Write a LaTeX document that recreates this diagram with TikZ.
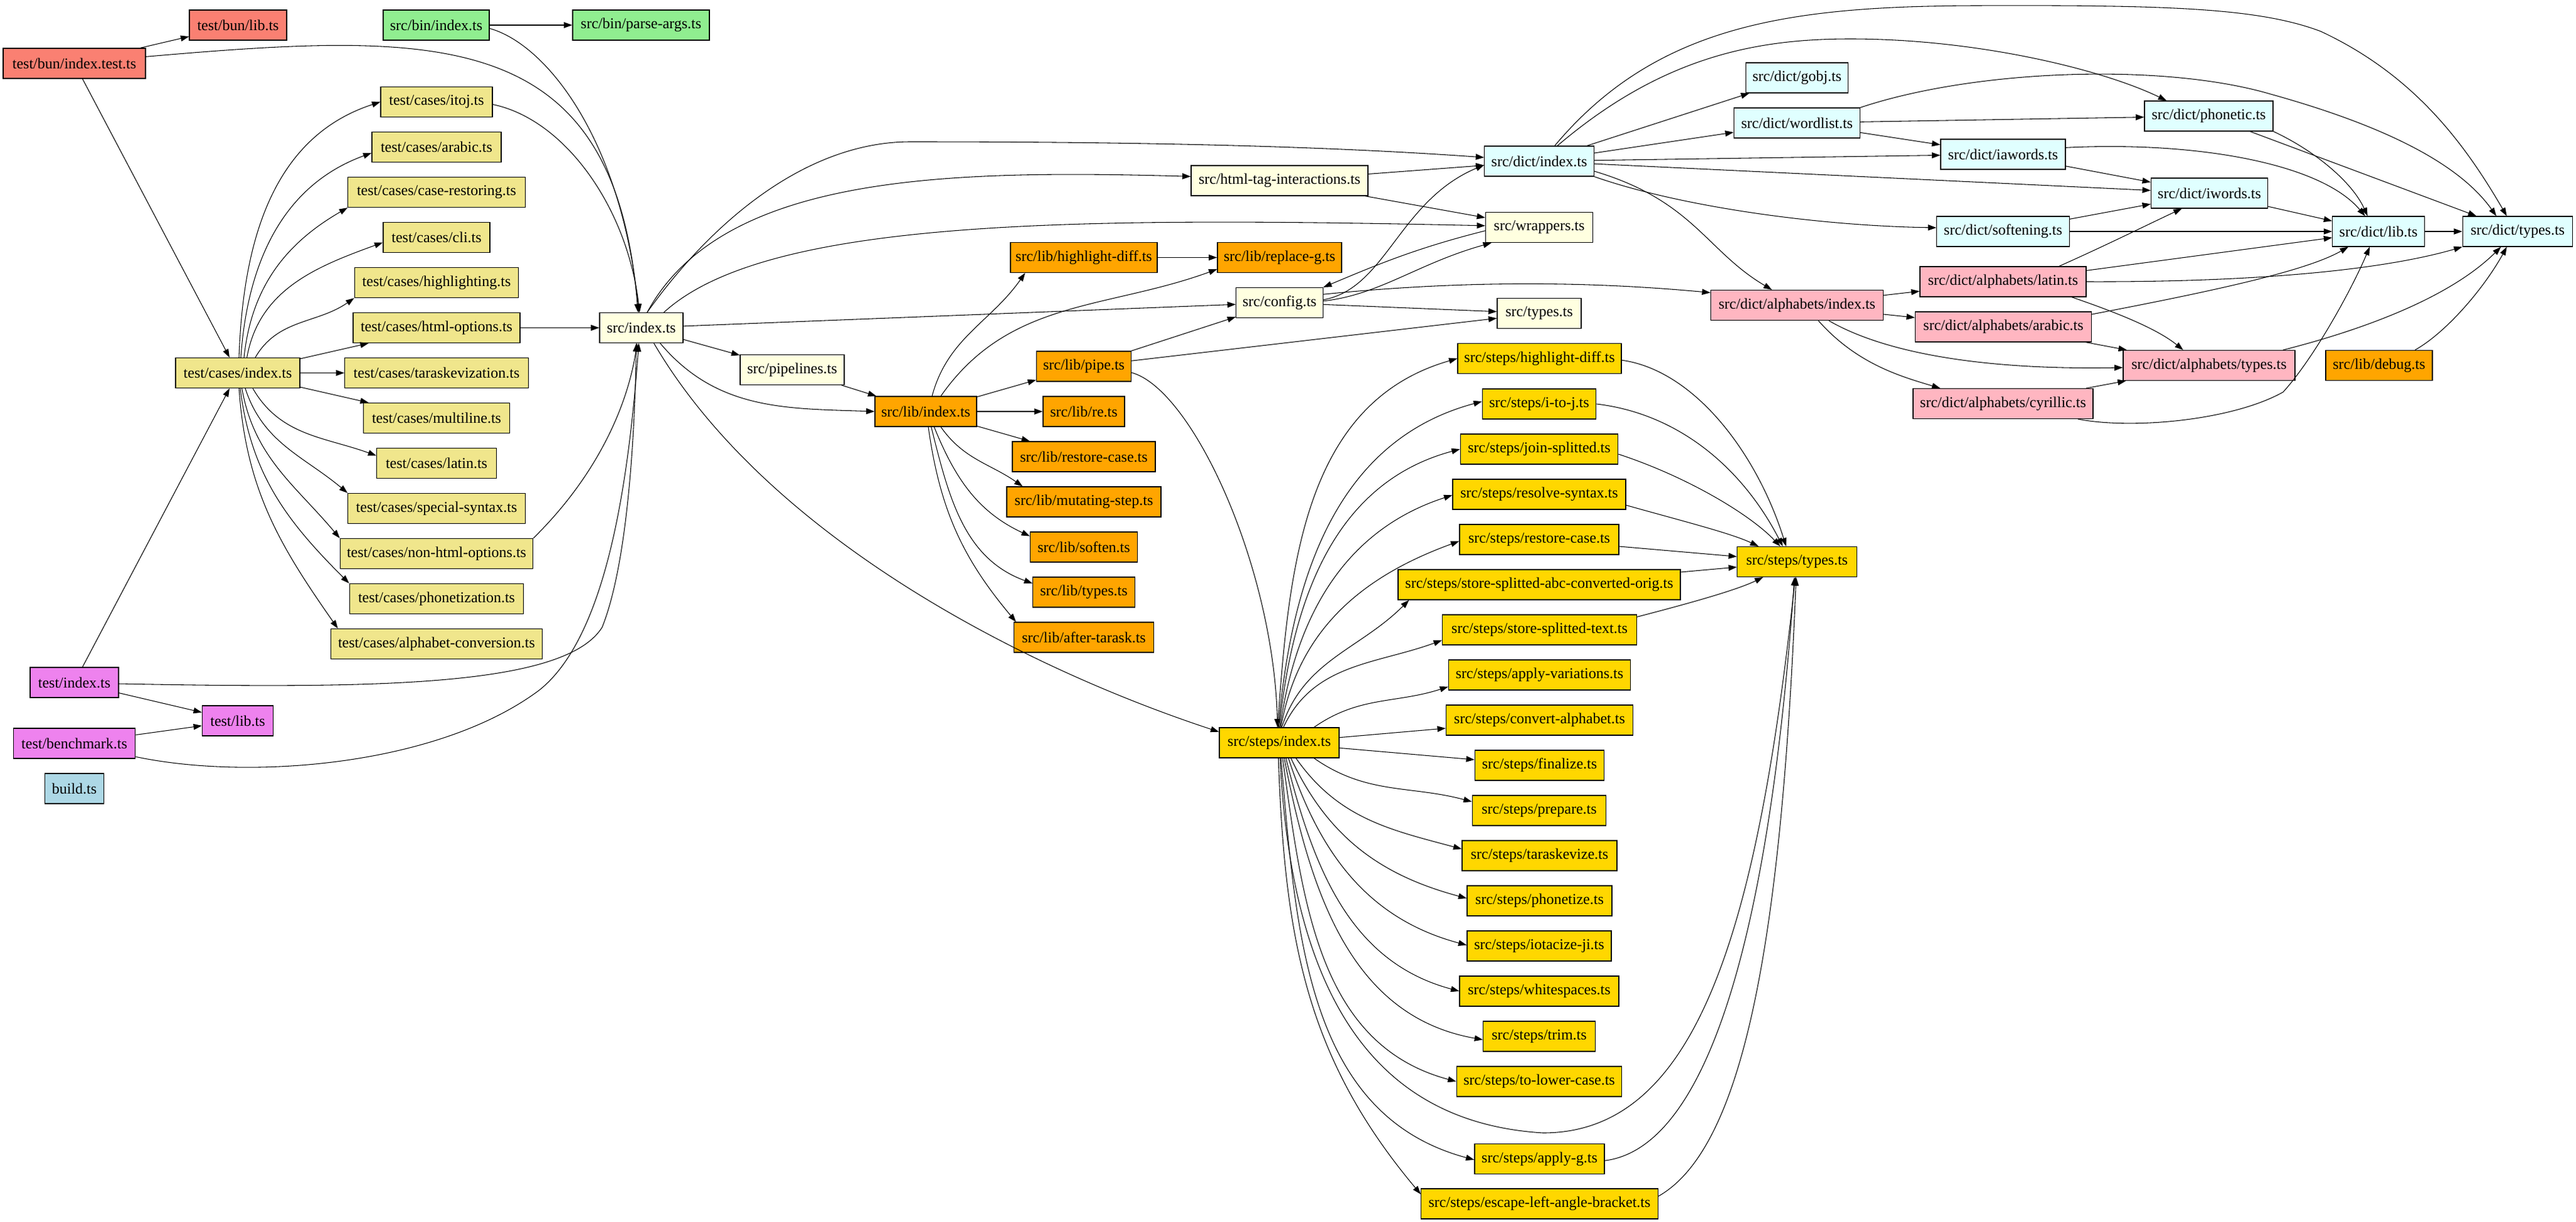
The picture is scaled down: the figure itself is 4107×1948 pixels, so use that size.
\documentclass[tikz,border=0pt]{standalone}
\usepackage{fontspec}
\setmainfont{Liberation Serif}
\usetikzlibrary{arrows.meta}
\definecolor{csalmon}{HTML}{FA8072}
\definecolor{cgreen}{HTML}{90EE90}
\definecolor{ckhaki}{HTML}{F0E68C}
\definecolor{cly}{HTML}{FFFFE0}
\definecolor{corange}{HTML}{FFA500}
\definecolor{ccyan}{HTML}{E0FFFF}
\definecolor{cpink}{HTML}{FFB6C1}
\definecolor{cgold}{HTML}{FFD700}
\definecolor{cviolet}{HTML}{EE82EE}
\definecolor{cblue}{HTML}{ADD8E6}
\tikzset{
  box/.style={draw=black, line width=0.9pt, rectangle, minimum height=36pt, inner xsep=3pt, inner ysep=0pt, font=\fontsize{18}{21}\selectfont},
  bw/.style={minimum width=#1*0.75pt},
  edg/.style={-{Triangle[length=10pt,width=7pt]}, line width=0.8pt, black}
}
\begin{document}
\begin{tikzpicture}[x=0.75pt,y=0.75pt]
\useasboundingbox[fill=white] (0,0) rectangle (4107,-1948);
% nodes
\node[box,bw=227,fill=csalmon] (tbi) at (118.5,-101) {test/bun/index.test.ts};
\node[box,bw=155,fill=csalmon] (tbl) at (379.5,-40) {test/bun/lib.ts};
\node[box,bw=169,fill=cgreen] (sbi) at (695.5,-40) {src/bin/index.ts};
\node[box,bw=218,fill=cgreen] (sbp) at (1022,-40) {src/bin/parse-args.ts};
\node[box,bw=198,fill=ckhaki] (tci) at (379,-594.5) {test/cases/index.ts};
\node[box,bw=178,fill=ckhaki] (c1) at (696,-162.5) {test/cases/itoj.ts};
\node[box,bw=206,fill=ckhaki] (c2) at (696,-234.5) {test/cases/arabic.ts};
\node[box,bw=282.5,fill=ckhaki] (c3) at (696,-306.5) {test/cases/case-restoring.ts};
\node[box,bw=170,fill=ckhaki] (c4) at (696,-378.5) {test/cases/cli.ts};
\node[box,bw=261.5,fill=ckhaki] (c5) at (696,-450.5) {test/cases/highlighting.ts};
\node[box,bw=266,fill=ckhaki] (c6) at (696,-522.5) {test/cases/html-options.ts};
\node[box,bw=293,fill=ckhaki] (c7) at (696,-594.5) {test/cases/taraskevization.ts};
\node[box,bw=232.5,fill=ckhaki] (c8) at (696,-666.5) {test/cases/multiline.ts};
\node[box,bw=190.5,fill=ckhaki] (c9) at (696,-738.5) {test/cases/latin.ts};
\node[box,bw=282.5,fill=ckhaki] (c10) at (696,-810.5) {test/cases/special-syntax.ts};
\node[box,bw=307.5,fill=ckhaki] (c11) at (696,-882.5) {test/cases/non-html-options.ts};
\node[box,bw=277.5,fill=ckhaki] (c12) at (696,-954.5) {test/cases/phonetization.ts};
\node[box,bw=337.5,fill=ckhaki] (c13) at (696,-1026.5) {test/cases/alphabet-conversion.ts};
\node[box,bw=141,fill=cviolet] (ti) at (118.5,-1088) {test/index.ts};
\node[box,bw=113,fill=cviolet] (tl) at (379,-1149) {test/lib.ts};
\node[box,bw=194.5,fill=cviolet] (tb) at (118.5,-1185) {test/benchmark.ts};
\node[box,bw=94.5,fill=cblue] (bd) at (118.5,-1257) {build.ts};
\node[box,bw=133,fill=cly] (si) at (1022.5,-522.5) {src/index.ts};
\node[box,bw=166,fill=cly] (pl) at (1263,-589.5) {src/pipelines.ts};
\node[box,bw=282,fill=cly] (hti) at (2040,-288) {src/html-tag-interactions.ts};
\node[box,bw=162,fill=corange] (li) at (1476,-656) {src/lib/index.ts};
\node[box,bw=234,fill=corange] (lhd) at (1728,-410.5) {src/lib/highlight-diff.ts};
\node[box,bw=198,fill=corange] (lrg) at (2040,-410.5) {src/lib/replace-g.ts};
\node[box,bw=138.5,fill=cly] (cfg) at (2040,-482.5) {src/config.ts};
\node[box,bw=151,fill=corange] (lp) at (1728,-584) {src/lib/pipe.ts};
\node[box,bw=130,fill=corange] (lre) at (1728,-656) {src/lib/re.ts};
\node[box,bw=228,fill=corange] (lrc) at (1728,-728) {src/lib/restore-case.ts};
\node[box,bw=246,fill=corange] (lms) at (1728,-800) {src/lib/mutating-step.ts};
\node[box,bw=171,fill=corange] (lso) at (1728,-872) {src/lib/soften.ts};
\node[box,bw=162.5,fill=corange] (lty) at (1728,-944) {src/lib/types.ts};
\node[box,bw=223,fill=corange] (lat) at (1728,-1016) {src/lib/after-tarask.ts};
\node[box,bw=191,fill=cgold] (sti) at (2039.5,-1184) {src/steps/index.ts};
\node[box,bw=174.5,fill=ccyan] (di) at (2454,-257) {src/dict/index.ts};
\node[box,bw=171,fill=cly] (wr) at (2454,-362.5) {src/wrappers.ts};
\node[box,bw=134,fill=cly] (ty) at (2454,-499.5) {src/types.ts};
\node[box,bw=163.5,fill=ccyan] (dg) at (2865,-124) {src/dict/gobj.ts};
\node[box,bw=201,fill=ccyan] (dw) at (2865,-196) {src/dict/wordlist.ts};
\node[box,bw=275,fill=cpink] (dai) at (2865,-486.5) {src/dict/alphabets/index.ts};
\node[box,bw=205,fill=ccyan] (dph) at (3521.5,-185) {src/dict/phonetic.ts};
\node[box,bw=199,fill=ccyan] (dia) at (3193.5,-246) {src/dict/iawords.ts};
\node[box,bw=186,fill=ccyan] (diw) at (3522.5,-308) {src/dict/iwords.ts};
\node[box,bw=211.5,fill=ccyan] (dso) at (3193.5,-369) {src/dict/softening.ts};
\node[box,bw=146.5,fill=ccyan] (dl) at (3792,-369) {src/dict/lib.ts};
\node[box,bw=175.5,fill=ccyan] (dt) at (4014,-369) {src/dict/types.ts};
\node[box,bw=265,fill=cpink] (alat) at (3193.5,-449) {src/dict/alphabets/latin.ts};
\node[box,bw=281,fill=cpink] (aar) at (3194,-521) {src/dict/alphabets/arabic.ts};
\node[box,bw=274,fill=cpink] (aty) at (3522,-582.5) {src/dict/alphabets/types.ts};
\node[box,bw=170,fill=corange] (ldb) at (3793,-582.5) {src/lib/debug.ts};
\node[box,bw=287,fill=cpink] (acy) at (3193.5,-643.5) {src/dict/alphabets/cyrillic.ts};
\node[box,bw=261,fill=cgold] (s1) at (2454.5,-571.5) {src/steps/highlight-diff.ts};
\node[box,bw=181.5,fill=cgold] (s2) at (2454,-644) {src/steps/i-to-j.ts};
\node[box,bw=251.5,fill=cgold] (s3) at (2454,-716) {src/steps/join-splitted.ts};
\node[box,bw=276,fill=cgold] (s4) at (2454,-788) {src/steps/resolve-syntax.ts};
\node[box,bw=254,fill=cgold] (s5) at (2454,-860) {src/steps/restore-case.ts};
\node[box,bw=450,fill=cgold] (s6) at (2454,-932) {src/steps/store-splitted-abc-converted-orig.ts};
\node[box,bw=310,fill=cgold] (s7) at (2454.5,-1004) {src/steps/store-splitted-text.ts};
\node[box,bw=290,fill=cgold] (s8) at (2454.5,-1076) {src/steps/apply-variations.ts};
\node[box,bw=298,fill=cgold] (s9) at (2454.5,-1148) {src/steps/convert-alphabet.ts};
\node[box,bw=206,fill=cgold] (s10) at (2454.5,-1220) {src/steps/finalize.ts};
\node[box,bw=213.5,fill=cgold] (s11) at (2454,-1292) {src/steps/prepare.ts};
\node[box,bw=247,fill=cgold] (s12) at (2454.5,-1364) {src/steps/taraskevize.ts};
\node[box,bw=231,fill=cgold] (s13) at (2454.5,-1436) {src/steps/phonetize.ts};
\node[box,bw=230,fill=cgold] (s14) at (2454,-1508) {src/steps/iotacize-ji.ts};
\node[box,bw=254,fill=cgold] (s15) at (2454,-1580) {src/steps/whitespaces.ts};
\node[box,bw=178.5,fill=cgold] (s16) at (2454,-1652) {src/steps/trim.ts};
\node[box,bw=263.5,fill=cgold] (s17) at (2454,-1724) {src/steps/to-lower-case.ts};
\node[box,bw=207,fill=cgold] (s18) at (2454.5,-1847.5) {src/steps/apply-g.ts};
\node[box,bw=377.5,fill=cgold] (s19) at (2454.5,-1919) {src/steps/escape-left-angle-bracket.ts};
\node[box,bw=190.5,fill=cgold] (sty) at (2865,-895.5) {src/steps/types.ts};
% edges: test/bun and src/bin
\draw[edg] (tbi) -- (tbl);
\draw[edg] ([yshift=8pt]tbi.east) .. controls (700,-50) and (980,-40) .. ([xshift=-4pt]si.north);
\draw[edg] (tbi) -- (tci);
\draw[edg] (sbi) -- (sbp);
\draw[edg] ([yshift=-4pt]sbi.east) .. controls (870,-70) and (990,-220) .. ([xshift=-3pt]si.north);
% test/cases
\draw[edg] ([xshift=1.5pt]tci.north) to[out=88,in=198] (c1.west);
\draw[edg] ([xshift=3.7pt]tci.north) to[out=86,in=200] ([yshift=-7pt]c2.west);
\draw[edg] ([xshift=7.5pt]tci.north) to[out=84,in=210] (c3.south west);
\draw[edg] ([xshift=11pt]tci.north) to[out=80,in=200] ([yshift=-6pt]c4.west);
\draw[edg] ([xshift=21pt]tci.north) to[out=60,in=215] (c5.south west);
\draw[edg] (tci) -- (c6);
\draw[edg] (tci) -- (c7);
\draw[edg] (tci) -- (c8);
\draw[edg] ([xshift=18pt]tci.south) to[out=-60,in=160] ([yshift=9pt]c9.west);
\draw[edg] ([xshift=9pt]tci.south) to[out=-72,in=140] (c10.north west);
\draw[edg] ([xshift=5pt]tci.south) to[out=-80,in=130] (c11.north west);
\draw[edg] ([xshift=3pt]tci.south) to[out=-83,in=135] (c12.north west);
\draw[edg] ([xshift=1.5pt]tci.south) to[out=-86,in=125] ([xshift=9pt]c13.north west);
\draw[edg] ([yshift=-3pt]c1.east) .. controls (900,-190) and (1000,-330) .. ([xshift=-2pt]si.north);
\draw[edg] (c6) -- (si);
\draw[edg] (c11.north east) .. controls (950,-760) and (1000,-650) .. ([xshift=-5pt]si.south);
% test/index, benchmark
\draw[edg] (ti) -- (tci);
\draw[edg] (ti) -- (tl);
\draw[edg] (tb) -- (tl);
\draw[edg] ([yshift=-1.5pt]ti.east) .. controls (600,-1098) and (900,-1095) .. (960,-1000) .. controls (1000,-900) and (1012,-700) .. ([xshift=-6pt]si.south);
\draw[edg] ([yshift=-16pt]tb.east) .. controls (400,-1245) and (700,-1220) .. (860,-1100) .. controls (960,-1020) and (1000,-800) .. ([xshift=-3pt]si.south);
% src/index
\draw[edg] ([xshift=7pt]si.north) .. controls (1130,-360) and (1280,-227) .. (1450,-226) .. controls (1800,-226) and (2100,-232) .. ([yshift=4.5pt]di.west);
\draw[edg] ([xshift=7pt]si.north) .. controls (1150,-280) and (1500,-270) .. ([yshift=5pt]hti.west);
\draw[edg] ([xshift=27pt]si.north) .. controls (1220,-350) and (1700,-345) .. ([yshift=2pt]wr.west);
\draw[edg] (si) -- (cfg);
\draw[edg] (si) -- (pl);
\draw[edg] ([xshift=22.5pt]si.south) to[out=-50,in=178] (li.west);
\draw[edg] ([xshift=15pt]si.south) .. controls (1220,-850) and (1620,-1060) .. ([yshift=13pt]sti.west);
\draw[edg] (pl) -- (li);
\draw[edg] (hti) -- (di);
\draw[edg] (hti) -- (wr);
% lib
\draw[edg] (lhd) -- (lrg);
\draw[edg] ([xshift=7.5pt]li.north) to[out=75,in=-125] ([xshift=18pt]lhd.south west);
\draw[edg] ([xshift=18pt]li.north) to[out=55,in=200] ([yshift=-14pt]lrg.west);
\draw[edg] (li) -- (lp);
\draw[edg] (li) -- (lre);
\draw[edg] (li) -- (lrc);
\draw[edg] ([xshift=18pt]li.south) to[out=-55,in=145] ([xshift=19.5pt]lms.north west);
\draw[edg] ([xshift=10pt]li.south) to[out=-68,in=155] ([yshift=13pt]lso.west);
\draw[edg] ([xshift=6.5pt]li.south) to[out=-76,in=160] ([yshift=10.5pt]lty.west);
\draw[edg] ([xshift=3pt]li.south) to[out=-82,in=130] ([xshift=3pt]lat.north west);
\draw[edg] (lp) -- (cfg);
\draw[edg] (lp) -- (ty);
\draw[edg] ([yshift=-7.5pt]lp.east) .. controls (1900,-620) and (2030,-900) .. ([xshift=-2pt]sti.north);
% config, wrappers
\draw[edg] ([yshift=3.5pt]cfg.east) .. controls (2210,-460) and (2230,-320) .. ([yshift=-4.5pt]di.west);
\draw[edg] ([yshift=2pt]cfg.east) .. controls (2200,-470) and (2260,-420) .. ([xshift=7.5pt]wr.south west);
\draw[edg] ([yshift=-4pt]wr.west) .. controls (2260,-395) and (2200,-420) .. (cfg.north east);
\draw[edg] (cfg) -- (ty);
\draw[edg] ([yshift=10pt]cfg.east) .. controls (2350,-445) and (2550,-450) .. ([yshift=15pt]dai.west);
% dict/index
\draw[edg] (di) -- (dg);
\draw[edg] (di) -- (dw);
\draw[edg] ([xshift=21.7pt]di.north) .. controls (2650,-90) and (2800,-62) .. (2950,-62) .. controls (3150,-62) and (3350,-110) .. ([xshift=-50.5pt]dph.north);
\draw[edg] ([xshift=18.5pt]di.north) .. controls (2640,-40) and (2850,-10) .. (3150,-9) .. controls (3450,-8) and (3600,-12) .. (3700,-50) .. controls (3850,-120) and (3930,-230) .. ([xshift=-13pt]dt.north);
\draw[edg] (di) -- (dia);
\draw[edg] (di) -- (diw);
\draw[edg] (di.south east) .. controls (2680,-330) and (2900,-360) .. ([yshift=4.5pt]dso.west);
\draw[edg] ([yshift=-12pt]di.east) .. controls (2700,-320) and (2720,-400) .. ([xshift=-30pt]dai.north);
% dict
\draw[edg] (dw) -- (dph);
\draw[edg] (dw.north east) .. controls (3150,-110) and (3450,-100) .. (3620,-150) .. controls (3800,-200) and (3920,-260) .. ([xshift=-25.5pt]dt.north);
\draw[edg] (dw) -- (dia);
\draw[edg] (dia) -- (diw);
\draw[edg] ([yshift=8pt]dia.east) .. controls (3500,-225) and (3700,-260) .. ([xshift=-16pt]dl.north);
\draw[edg] (dph.south east) .. controls (3690,-240) and (3750,-290) .. ([xshift=-13pt]dl.north);
\draw[edg] (dph) -- (dt);
\draw[edg] (diw) -- (dl);
\draw[edg] (dso) -- (diw);
\draw[edg] (dso) -- (dl);
\draw[edg] (dl) -- (dt);
% alphabets
\draw[edg] (dai) -- (alat);
\draw[edg] (dai) -- (aar);
\draw[edg] ([xshift=38pt]dai.south) .. controls (3000,-560) and (3150,-590) .. ([yshift=-2.6pt]aty.west);
\draw[edg] ([xshift=25.5pt]dai.south) .. controls (2960,-580) and (3030,-600) .. ([xshift=33pt]acy.north west);
\draw[edg] ([xshift=67pt]alat.north) .. controls (3360,-390) and (3420,-360) .. ([xshift=-33pt]diw.south);
\draw[edg] (alat) -- (dl);
\draw[edg] (alat.east) .. controls (3600,-450) and (3800,-430) .. (dt.south west);
\draw[edg] ([xshift=82pt]alat.south) .. controls (3380,-500) and (3440,-525) .. ([xshift=-31pt]aty.north);
\draw[edg] ([yshift=15pt]aar.east) .. controls (3550,-460) and (3680,-430) .. ([xshift=-36pt]dl.south);
\draw[edg] (aar) -- (aty);
\draw[edg] (acy) -- (aty);
\draw[edg] ([xshift=89.6pt]acy.south) .. controls (3400,-685) and (3560,-670) .. (3640,-625) .. controls (3690,-570) and (3750,-460) .. ([xshift=-10.5pt]dl.south);
\draw[edg] ([xshift=88.5pt]aty.north) .. controls (3750,-530) and (3900,-480) .. ([xshift=-20pt]dt.south);
\draw[edg] ([xshift=43pt]ldb.north) .. controls (3900,-530) and (3960,-460) .. ([xshift=-13pt]dt.south);
% steps
\draw[edg] ([xshift=-2pt]sti.north) to[out=86,in=196] (s1.west);
\draw[edg] ([xshift=-1pt]sti.north) to[out=85,in=195] ([yshift=3pt]s2.west);
\draw[edg] ([xshift=0pt]sti.north) to[out=84,in=195] (s3.west);
\draw[edg] ([xshift=1pt]sti.north) to[out=82,in=198] ([yshift=-1pt]s4.west);
\draw[edg] ([xshift=2pt]sti.north) to[out=80,in=200] ([yshift=-2pt]s5.west);
\draw[edg] ([xshift=3pt]sti.north) to[out=72,in=225] ([xshift=13.5pt]s6.south west);
\draw[edg] ([xshift=5pt]sti.north) to[out=65,in=200] ([yshift=-12.5pt]s7.west);
\draw[edg] ([xshift=41.6pt]sti.north) to[out=35,in=198] ([yshift=-14pt]s8.west);
\draw[edg] (sti) -- (s9);
\draw[edg] (sti) -- (s10);
\draw[edg] ([xshift=41.6pt]sti.south) to[out=-35,in=165] ([yshift=10.5pt]s11.west);
\draw[edg] ([xshift=20pt]sti.south) to[out=-55,in=165] ([yshift=8pt]s12.west);
\draw[edg] ([xshift=14pt]sti.south) to[out=-65,in=165] ([yshift=3pt]s13.west);
\draw[edg] ([xshift=11pt]sti.south) to[out=-72,in=165] ([yshift=1pt]s14.west);
\draw[edg] ([xshift=8pt]sti.south) to[out=-76,in=165] (s15.west);
\draw[edg] ([xshift=6pt]sti.south) to[out=-79,in=170] ([yshift=-4pt]s16.west);
\draw[edg] ([xshift=4pt]sti.south) to[out=-82,in=165] (s17.west);
\draw[edg] ([xshift=2pt]sti.south) to[out=-85,in=165] ([yshift=-1pt]s18.west);
\draw[edg] ([xshift=-1pt]sti.south) to[out=-88,in=130] ([yshift=-7pt]s19.north west);
\draw[edg] ([xshift=1pt]sti.south) .. controls (2060,-1600) and (2200,-1790) .. (2460,-1806) .. controls (2700,-1806) and (2800,-1500) .. ([xshift=-2pt]sty.south);
\draw[edg] ([yshift=-2pt]s1.east) .. controls (2700,-590) and (2800,-720) .. ([xshift=-13pt]sty.north);
\draw[edg] (s2.east) .. controls (2680,-660) and (2780,-750) .. ([xshift=-17pt]sty.north);
\draw[edg] ([yshift=-6pt]s3.east) .. controls (2690,-760) and (2790,-820) .. ([xshift=-20pt]sty.north);
\draw[edg] ([yshift=-13pt]s4.east) .. controls (2680,-830) and (2760,-850) .. ([xshift=-46pt]sty.north);
\draw[edg] (s5) -- (sty);
\draw[edg] (s6) -- (sty);
\draw[edg] ([yshift=15.5pt]s7.east) .. controls (2700,-960) and (2770,-940) .. ([xshift=-40.5pt]sty.south);
\draw[edg] ([yshift=-2pt]s18.east) .. controls (2720,-1830) and (2820,-1500) .. ([xshift=-3pt]sty.south);
\draw[edg] ([yshift=9pt]s19.east) .. controls (2780,-1830) and (2840,-1500) .. ([xshift=-1pt]sty.south);
\end{tikzpicture}
\end{document}
